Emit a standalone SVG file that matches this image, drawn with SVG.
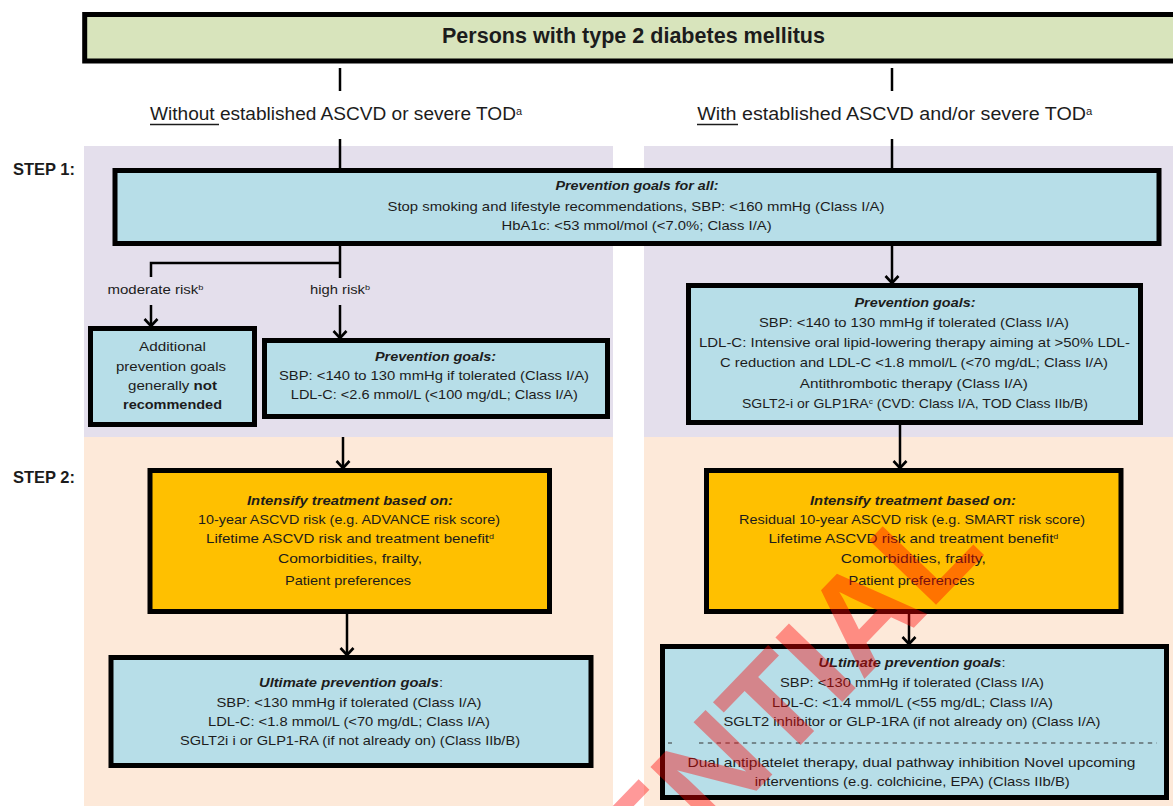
<svg xmlns="http://www.w3.org/2000/svg" width="1173" height="806" viewBox="0 0 1173 806">
  <style>
    .t{font-family:"Liberation Sans",Arial,sans-serif;fill:#1c1c1c}
    .b{font-size:13.5px}
    .hd{font-size:17.5px}
    .h{font-weight:bold;font-style:italic}
    .step{font-size:17px;font-weight:bold}
    .box{stroke:#000;stroke-width:5}
    .blue{fill:#b7dee8}
    .yel{fill:#ffc000}
    .con{stroke:#000;stroke-width:2.5;fill:none}
    .arr{marker-end:url(#arr)}
    .ul{stroke:#1c1c1c;stroke-width:1.3}
  </style>
  <defs>
    <marker id="arr" viewBox="-10 -8 12 16" markerWidth="12" markerHeight="16" refX="0" refY="0" orient="auto" markerUnits="userSpaceOnUse">
      <path d="M-7,-6.5 L0,0 L-7,6.5" fill="none" stroke="#000" stroke-width="2.6"/>
    </marker>
  </defs>

  <!-- background bands for the two steps -->
  <g id="panels">
    <rect x="84" y="146" width="529" height="291" fill="#e4dfec"/>
    <rect x="644" y="146" width="529" height="291" fill="#e4dfec"/>
    <rect x="84" y="437" width="529" height="369" fill="#fde9d9"/>
    <rect x="644" y="437" width="529" height="369" fill="#fde9d9"/>
  </g>

  <g id="step-labels" class="t">
    <text class="step" x="13" y="175" textLength="62" lengthAdjust="spacingAndGlyphs">STEP 1:</text>
    <text class="step" x="13" y="483" textLength="62" lengthAdjust="spacingAndGlyphs">STEP 2:</text>
  </g>

  <g id="title">
    <rect x="84.7" y="14.5" width="1110" height="46.5" fill="#d8e4bc" class="box" stroke-width="4.7"/>
    <text class="t" x="633.5" y="43" font-size="22" font-weight="bold" text-anchor="middle" textLength="383" lengthAdjust="spacingAndGlyphs">Persons with type 2 diabetes mellitus</text>
  </g>

  <g id="header-without" class="t">
    <text class="hd" x="336" y="120" text-anchor="middle" textLength="372" lengthAdjust="spacingAndGlyphs">Without established ASCVD or severe TOD<tspan font-size="10" baseline-shift="super">a</tspan></text>
    <line class="ul" x1="150" y1="124.5" x2="219" y2="124.5"/>
  </g>

  <g id="header-with" class="t">
    <text class="hd" x="894.7" y="120" text-anchor="middle" textLength="395" lengthAdjust="spacingAndGlyphs">With established ASCVD and/or severe TOD<tspan font-size="10" baseline-shift="super">a</tspan></text>
    <line class="ul" x1="697" y1="124.5" x2="738" y2="124.5"/>
  </g>

  <g id="goals-all" class="t b">
    <rect x="115" y="170.5" width="1044" height="73" class="box blue"/>
    <text class="h" x="637" y="190" text-anchor="middle" textLength="163" lengthAdjust="spacingAndGlyphs">Prevention goals for all:</text>
    <text x="636" y="210.5" text-anchor="middle" textLength="497" lengthAdjust="spacingAndGlyphs">Stop smoking and lifestyle recommendations, SBP: &lt;160 mmHg (Class I/A)</text>
    <text x="636.6" y="230" text-anchor="middle" textLength="270" lengthAdjust="spacingAndGlyphs">HbA1c: &lt;53 mmol/mol (&lt;7.0%; Class I/A)</text>
  </g>

  <g id="risk-labels" class="t" font-size="13">
    <text x="155.5" y="294" text-anchor="middle" textLength="96" lengthAdjust="spacingAndGlyphs">moderate risk<tspan font-size="8" baseline-shift="super">b</tspan></text>
    <text x="340" y="294" text-anchor="middle" textLength="60" lengthAdjust="spacingAndGlyphs">high risk<tspan font-size="8" baseline-shift="super">b</tspan></text>
  </g>

  <g id="moderate-risk" class="t b">
    <rect x="90.5" y="328.5" width="164" height="96" class="box blue"/>
    <text x="172.5" y="351" text-anchor="middle" textLength="67" lengthAdjust="spacingAndGlyphs">Additional</text>
    <text x="171" y="371" text-anchor="middle" textLength="110" lengthAdjust="spacingAndGlyphs">prevention goals</text>
    <text x="172.5" y="390" text-anchor="middle" textLength="89" lengthAdjust="spacingAndGlyphs">generally <tspan font-weight="bold">not</tspan></text>
    <text x="172.5" y="409" text-anchor="middle" textLength="99" lengthAdjust="spacingAndGlyphs" font-weight="bold">recommended</text>
  </g>

  <g id="high-risk" class="t b">
    <rect x="264.5" y="340.5" width="343" height="76" class="box blue"/>
    <text class="h" x="435.5" y="361" text-anchor="middle" textLength="121" lengthAdjust="spacingAndGlyphs">Prevention goals:</text>
    <text x="434" y="380" text-anchor="middle" textLength="310" lengthAdjust="spacingAndGlyphs">SBP: &lt;140 to 130 mmHg if tolerated (Class I/A)</text>
    <text x="434.3" y="399" text-anchor="middle" textLength="287" lengthAdjust="spacingAndGlyphs">LDL-C: &lt;2.6 mmol/L (&lt;100 mg/dL; Class I/A)</text>
  </g>

  <g id="ascvd-goals" class="t b">
    <rect x="688.5" y="285.5" width="452" height="137" class="box blue"/>
    <text class="h" x="915" y="307" text-anchor="middle" textLength="121" lengthAdjust="spacingAndGlyphs">Prevention goals:</text>
    <text x="914" y="327" text-anchor="middle" textLength="310" lengthAdjust="spacingAndGlyphs">SBP: &lt;140 to 130 mmHg if tolerated (Class I/A)</text>
    <text x="914.4" y="347" text-anchor="middle" textLength="431" lengthAdjust="spacingAndGlyphs">LDL-C: Intensive oral lipid-lowering therapy aiming at &gt;50% LDL-</text>
    <text x="914" y="366.5" text-anchor="middle" textLength="388" lengthAdjust="spacingAndGlyphs">C reduction and LDL-C &lt;1.8 mmol/L (&lt;70 mg/dL; Class I/A)</text>
    <text x="913.8" y="388" text-anchor="middle" textLength="228" lengthAdjust="spacingAndGlyphs">Antithrombotic therapy (Class I/A)</text>
    <text x="915" y="407.5" text-anchor="middle" textLength="346" lengthAdjust="spacingAndGlyphs">SGLT2-i or GLP1RA<tspan font-size="8" baseline-shift="super">c</tspan> (CVD: Class I/A, TOD Class IIb/B)</text>
  </g>

  <g id="intensify-left" class="t b">
    <rect x="150" y="470.5" width="399.5" height="141" class="box yel"/>
    <text class="h" x="350" y="505" text-anchor="middle" textLength="206" lengthAdjust="spacingAndGlyphs">Intensify treatment based on:</text>
    <text x="349" y="524" text-anchor="middle" textLength="302" lengthAdjust="spacingAndGlyphs">10-year ASCVD risk (e.g. ADVANCE risk score)</text>
    <text x="350" y="543" text-anchor="middle" textLength="288" lengthAdjust="spacingAndGlyphs">Lifetime ASCVD risk and treatment benefit<tspan font-size="8" baseline-shift="super">d</tspan></text>
    <text x="350" y="563" text-anchor="middle" textLength="144" lengthAdjust="spacingAndGlyphs">Comorbidities, frailty,</text>
    <text x="348" y="585" text-anchor="middle" textLength="126" lengthAdjust="spacingAndGlyphs">Patient preferences</text>
  </g>

  <g id="intensify-right" class="t b">
    <rect x="706.5" y="470.5" width="414.5" height="141" class="box yel"/>
    <text class="h" x="913" y="505" text-anchor="middle" textLength="206" lengthAdjust="spacingAndGlyphs">Intensify treatment based on:</text>
    <text x="912" y="524" text-anchor="middle" textLength="346" lengthAdjust="spacingAndGlyphs">Residual 10-year ASCVD risk (e.g. SMART risk score)</text>
    <text x="913.4" y="543" text-anchor="middle" textLength="290" lengthAdjust="spacingAndGlyphs">Lifetime ASCVD risk and treatment benefit<tspan font-size="8" baseline-shift="super">d</tspan></text>
    <text x="913.3" y="563" text-anchor="middle" textLength="145" lengthAdjust="spacingAndGlyphs">Comorbidities, frailty,</text>
    <text x="911.5" y="585" text-anchor="middle" textLength="126" lengthAdjust="spacingAndGlyphs">Patient preferences</text>
  </g>

  <g id="ultimate-left" class="t b">
    <rect x="111" y="657.5" width="480" height="108" class="box blue"/>
    <text x="351" y="687" text-anchor="middle" textLength="184" lengthAdjust="spacingAndGlyphs"><tspan class="h">Ultimate prevention goals</tspan>:</text>
    <text x="349" y="707" text-anchor="middle" textLength="265" lengthAdjust="spacingAndGlyphs">SBP: &lt;130 mmHg if tolerated (Class I/A)</text>
    <text x="349" y="726" text-anchor="middle" textLength="282" lengthAdjust="spacingAndGlyphs">LDL-C: &lt;1.8 mmol/L (&lt;70 mg/dL; Class I/A)</text>
    <text x="350" y="745" text-anchor="middle" textLength="340" lengthAdjust="spacingAndGlyphs">SGLT2i i or GLP1-RA (if not already on) (Class IIb/B)</text>
  </g>

  <g id="ultimate-right" class="t b">
    <rect x="662.5" y="646.5" width="504" height="151" class="box blue"/>
    <text x="912" y="667" text-anchor="middle" textLength="187" lengthAdjust="spacingAndGlyphs"><tspan class="h">ULtimate prevention goals</tspan>:</text>
    <text x="912" y="687" text-anchor="middle" textLength="264" lengthAdjust="spacingAndGlyphs">SBP: &lt;130 mmHg if tolerated (Class I/A)</text>
    <text x="912.4" y="707" text-anchor="middle" textLength="281" lengthAdjust="spacingAndGlyphs">LDL-C: &lt;1.4 mmol/L (&lt;55 mg/dL; Class I/A)</text>
    <text x="912" y="726" text-anchor="middle" textLength="377" lengthAdjust="spacingAndGlyphs">SGLT2 inhibitor or GLP-1RA (if not already on) (Class I/A)</text>
    <line x1="668" y1="743" x2="672" y2="743" stroke="#333" stroke-width="1"/>
    <line x1="699" y1="743" x2="1157" y2="743" stroke="#333" stroke-width="1" stroke-dasharray="4.4 4.4"/>
    <text x="911.5" y="766.5" text-anchor="middle" textLength="448" lengthAdjust="spacingAndGlyphs">Dual antiplatelet therapy, dual pathway inhibition Novel upcoming</text>
    <text x="912.3" y="786" text-anchor="middle" textLength="315" lengthAdjust="spacingAndGlyphs">interventions (e.g. colchicine, EPA) (Class IIb/B)</text>
  </g>

  <g id="connectors" class="con">
    <line x1="340" y1="68" x2="340" y2="91"/>
    <line x1="892" y1="68" x2="892" y2="91"/>
    <line x1="340" y1="139" x2="340" y2="170"/>
    <line x1="892" y1="139" x2="892" y2="170"/>
    <line x1="340" y1="244" x2="340" y2="278"/>
    <polyline points="151,277 151,263 340,263"/>
    <line class="arr" x1="151" y1="305" x2="151" y2="326"/>
    <line class="arr" x1="340" y1="305" x2="340" y2="338"/>
    <line class="arr" x1="892" y1="244" x2="892" y2="283"/>
    <line class="arr" x1="343" y1="437" x2="343" y2="468"/>
    <line class="arr" x1="900" y1="423" x2="900" y2="468"/>
    <line class="arr" x1="347" y1="612" x2="347" y2="655"/>
    <line class="arr" x1="909" y1="612" x2="909" y2="644"/>
  </g>

  <!-- diagonal stamp across the lower right -->
  <g id="stamp">
    <text transform="translate(987,552) rotate(-46)" x="0" y="0" text-anchor="end" font-family="Liberation Sans, Arial, sans-serif" font-size="135" font-weight="bold" fill="#ff0000" fill-opacity="0.4">CONFIDENTIAL</text>
  </g>
</svg>
